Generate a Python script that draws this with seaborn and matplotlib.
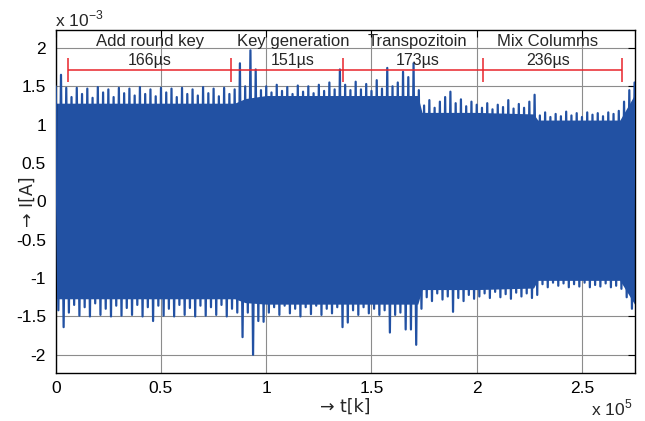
import numpy as np
import pandas as pd
import matplotlib
matplotlib.use("Agg")
import matplotlib.pyplot as plt
import seaborn as sns

# ---------------- data (x in units of 1e5 samples, current in units of 1e-3 A) -------------
sample_step = 0.025  # spacing of the read peak values (x 1e5)

peak_hi = [1.50, 1.65, 1.48,
           1.36, 1.48, 1.40, 1.47, 1.35, 1.49, 1.42, 1.46, 1.36, 1.48, 1.41, 1.47, 1.38, 1.49, 1.40, 1.46,
           1.37, 1.48, 1.42, 1.47, 1.36, 1.48, 1.40, 1.46, 1.38, 1.49, 1.41, 1.47, 1.37, 1.48, 1.40, 1.46,
           1.80, 1.50, 1.97, 1.72, 1.45,
           1.50, 1.42, 1.52, 1.44, 1.49, 1.40, 1.51, 1.43, 1.50, 1.41, 1.52, 1.44, 1.55, 1.46,
           1.72,
           1.52, 1.45, 1.56, 1.46, 1.53, 1.44, 1.58, 1.47,
           1.74, 1.50, 1.55, 1.69, 1.62, 1.80, 1.45,
           1.25, 1.32, 1.22, 1.30, 1.36, 1.43, 1.28, 1.33, 1.24, 1.30, 1.26,
           1.22, 1.28, 1.20, 1.26, 1.23, 1.32, 1.21, 1.27, 1.22, 1.30, 1.39,
           1.12, 1.16, 1.10, 1.14, 1.11, 1.17, 1.12, 1.15, 1.10, 1.16, 1.13, 1.15, 1.11, 1.16, 1.14, 1.18,
           1.30, 1.45, 1.55]

peak_lo = [-1.42, -1.64, -1.45,
           -1.35, -1.49, -1.38, -1.50, -1.33, -1.48, -1.40, -1.50, -1.36, -1.49, -1.39, -1.48, -1.35, -1.50,
           -1.38, -1.56, -1.36, -1.49, -1.40, -1.50, -1.35, -1.48, -1.39, -1.50, -1.36, -1.49, -1.38, -1.48,
           -1.35, -1.50, -1.40, -1.45,
           -1.77, -1.45, -2.00, -1.56, -1.57,
           -1.45, -1.38, -1.48, -1.36, -1.46, -1.40, -1.50, -1.38, -1.47, -1.36, -1.48, -1.40, -1.46, -1.38,
           -1.64,
           -1.58, -1.42, -1.48, -1.38, -1.46, -1.40, -1.48, -1.42,
           -1.71, -1.48, -1.45, -1.67, -1.67, -1.87, -1.40,
           -1.25, -1.30, -1.20, -1.28, -1.24, -1.44, -1.26, -1.30, -1.22, -1.27, -1.24,
           -1.20, -1.26, -1.18, -1.25, -1.21, -1.27, -1.19, -1.24, -1.20, -1.26, -1.22,
           -1.08, -1.12, -1.06, -1.10, -1.07, -1.12, -1.08, -1.11, -1.06, -1.12, -1.09, -1.11, -1.07, -1.12,
           -1.10, -1.14,
           -1.25, -1.40, -1.46]

core_x = [0.0, 0.05, 0.85, 0.90, 1.00, 1.72, 1.74, 2.00, 2.27, 2.29, 2.68, 2.752]
core_hi = [1.28, 1.28, 1.28, 1.34, 1.38, 1.38, 1.16, 1.16, 1.14, 1.06, 1.06, 1.40]
core_lo = [-1.27, -1.27, -1.27, -1.32, -1.34, -1.34, -1.15, -1.15, -1.13, -1.03, -1.03, -1.35]

phase_names = ["Add round key", "Key generation", "Transpozitoin", "Mix Columms"]
phase_times = ["166\u00b5s", "151\u00b5s", "173\u00b5s", "236\u00b5s"]
phase_bounds = [0.058, 0.832, 1.364, 2.029, 2.689]
name_x = [0.449, 1.127, 1.72, 2.338]
time_x = [0.448, 1.124, 1.718, 2.338]

x_ticks = [0, 0.5, 1, 1.5, 2, 2.5]
y_ticks = [-2, -1.5, -1, -0.5, 0, 0.5, 1, 1.5, 2]

# ---------------- build the trace -------------
n = len(peak_hi)
t_hi = np.arange(n) * sample_step
t_lo = t_hi + sample_step / 2
t = np.empty(2 * n)
v = np.empty(2 * n)
t[0::2], t[1::2] = t_hi, t_lo
v[0::2], v[1::2] = peak_hi, peak_lo
df = pd.DataFrame({"t": t, "I": v})

# ---------------- style -------------
sns.set_style("white")
plt.rcParams["font.family"] = ["Liberation Sans", "DejaVu Sans"]
plt.rcParams["mathtext.fontset"] = "custom"
plt.rcParams["mathtext.rm"] = "Liberation Sans"

BLUE = "#2251a3"
RED = "#e8252b"

fig = plt.figure(figsize=(6.45, 4.21), dpi=100)
ax = fig.add_axes([0.0864, 0.1147, 0.8981, 0.814])

ax.fill_between(core_x, core_lo, core_hi, color=BLUE, lw=0, zorder=2)
sns.lineplot(data=df, x="t", y="I", ax=ax, color=BLUE, lw=1.6, estimator=None,
             sort=False, zorder=3)

ax.set_xlim(0, 2.752)
ax.set_ylim(-2.234, 2.234)
ax.set_xticks(x_ticks)
ax.set_yticks(y_ticks)
ax.set_xticklabels([f"{v:g}" for v in x_ticks])
ax.set_yticklabels([f"{v:g}" for v in y_ticks])
ax.grid(True, color="#8c8c8c", lw=0.8, zorder=0)
ax.set_axisbelow(True)
ax.tick_params(direction="in", length=5, width=0.8, top=True, right=True,
               labelsize=12.5, colors="black")
ax.tick_params(axis="y", pad=7)
ax.tick_params(axis="x", pad=6)
for s in ax.spines.values():
    s.set_color("black")
    s.set_linewidth(1.0)
    s.set_visible(True)

ax.set_xlabel("\u2192 t[k]", fontsize=12.5, labelpad=1, family=["DejaVu Sans"])
ax.set_ylabel("\u2192 I[A]", fontsize=12.5, family=["DejaVu Sans"])
ax.yaxis.set_label_coords(-0.032, 0.5)

# phase annotations
y_line = 1.716
ax.hlines(y_line, phase_bounds[0], phase_bounds[-1], color=RED, lw=1.1, zorder=5)
ax.vlines(phase_bounds, 1.56, 1.872, color=RED, lw=1.1, zorder=5)
for nm, xn in zip(phase_names, name_x):
    ax.text(xn, 2.08, nm, ha="center", va="center", fontsize=12, zorder=6)
for tm, xt in zip(phase_times, time_x):
    ax.text(xt, 1.84, tm, ha="center", va="center", fontsize=11.5, zorder=6)

fig.text(55 / 645, 1 - 26 / 421, r"x 10$^{\mathregular{-3}}$", fontsize=12.5,
         ha="left", va="baseline")
fig.text(632 / 645, 1 - 415 / 421, r"x 10$^{\mathregular{5}}$", fontsize=12.5,
         ha="right", va="baseline")

fig.savefig("out.png", dpi=100)
